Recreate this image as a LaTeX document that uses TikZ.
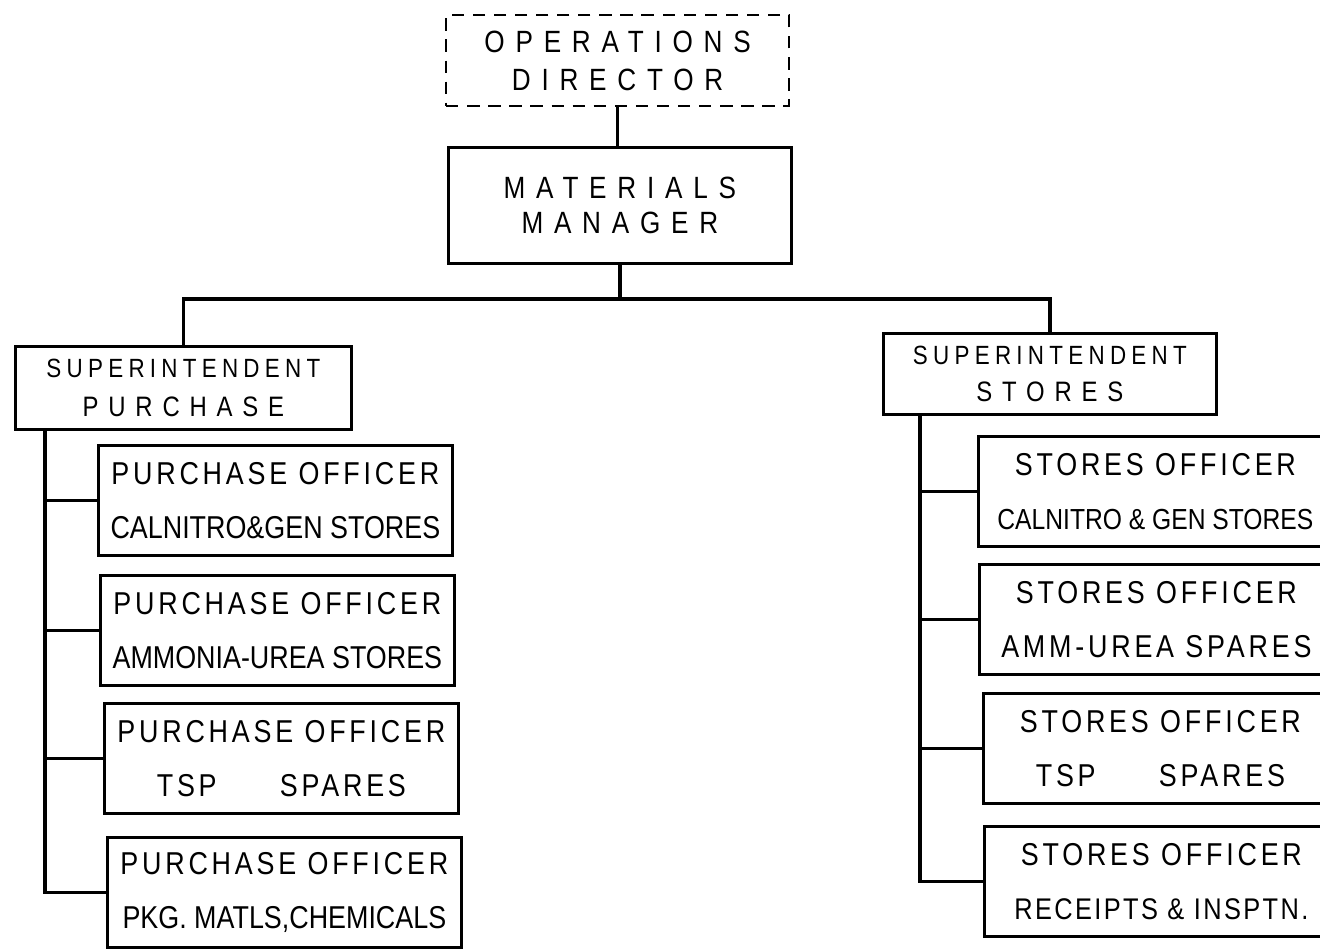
\documentclass[tikz,border=0pt]{standalone}
\usepackage{fontspec}
\setmainfont[FakeStretch=0.85]{Liberation Sans}
\newfontfamily\wide[FakeStretch=0.85,LetterSpace=35]{Liberation Sans}
\newfontfamily\midsp[FakeStretch=0.85,LetterSpace=20]{Liberation Sans}
\newfontfamily\spread[FakeStretch=0.85,LetterSpace=12]{Liberation Sans}
\newfontfamily\tight[FakeStretch=0.85,LetterSpace=8]{Liberation Sans}
\usetikzlibrary{calc}

\begin{document}
\begin{tikzpicture}[x=0.02cm,y=-0.02cm,
  box/.style={draw,line width=1.6pt,anchor=north west,align=center,inner sep=0pt},
  officer/.style={box,minimum width=7.08cm,minimum height=2.2cm,font=\fontsize{18}{31}\selectfont},
  link/.style={line width=2pt}]
\useasboundingbox (0,0) rectangle (1320,951);

\node[box,line width=1.3pt,dash pattern=on 7pt off 5pt,minimum width=6.86cm,minimum height=1.82cm,
  font=\wide\fontsize{17.5}{21.5}\selectfont] (od) at (445,14) {OPERATIONS\\DIRECTOR};
\node[box,minimum width=6.86cm,minimum height=2.32cm,
  font=\wide\fontsize{17.5}{19.5}\selectfont] (mm) at (447,146) {MATERIALS\\MANAGER};

\node[box,minimum width=6.72cm,minimum height=1.66cm,
  font=\wide\fontsize{16}{22.7}\selectfont] (sp) at (14,345) {{\midsp\fontsize{15}{22.7}\selectfont SUPERINTENDENT}\\PURCHASE};
\node[box,minimum width=6.66cm,minimum height=1.62cm,
  font=\wide\fontsize{16}{21.5}\selectfont] (ss) at (882,332) {{\midsp\fontsize{15}{21.5}\selectfont SUPERINTENDENT}\\STORES};

\node[officer] (po1) at (97,444) {{\spread PURCHASE OFFICER}\\CALNITRO\&GEN STORES};
\node[officer] (po2) at (99,574) {{\spread PURCHASE OFFICER}\\AMMONIA-UREA STORES};
\node[officer] (po3) at (103,702) {{\spread PURCHASE OFFICER}\\{\spread TSP\qquad SPARES}};
\node[officer] (po4) at (106,836) {{\spread PURCHASE OFFICER}\\PKG. MATLS,CHEMICALS};

\node[officer] (so1) at (977,435) {{\spread STORES OFFICER}\\{\fontsize{16.5}{31}\selectfont CALNITRO \& GEN STORES}};
\node[officer] (so2) at (978,563) {{\spread STORES OFFICER}\\{\spread AMM-UREA SPARES}};
\node[officer] (so3) at (982,692) {{\spread STORES OFFICER}\\{\spread TSP\qquad SPARES}};
\node[officer] (so4) at (983,825) {{\spread STORES OFFICER}\\{\tight\fontsize{17}{31}\selectfont RECEIPTS \& INSPTN.}};

\draw[link] (od.south) -- (od.south |- mm.north);
\draw[link] (mm.south) -- ++(0,34) coordinate (bus);
\draw[link] (sp.north) |- (bus) -| (ss.north);

\coordinate (lt) at ($(sp.south west)+(31,0)$);
\draw[link] (lt) |- (po4.west);
\foreach \b in {po1,po2,po3}
  \draw[link] (\b.west) -- (\b.west -| lt);

\coordinate (rt) at ($(ss.south west)+(38,0)$);
\draw[link] (rt) |- (so4.west);
\foreach \b in {so1,so2,so3}
  \draw[link] (\b.west) -- (\b.west -| rt);
\end{tikzpicture}
\end{document}
